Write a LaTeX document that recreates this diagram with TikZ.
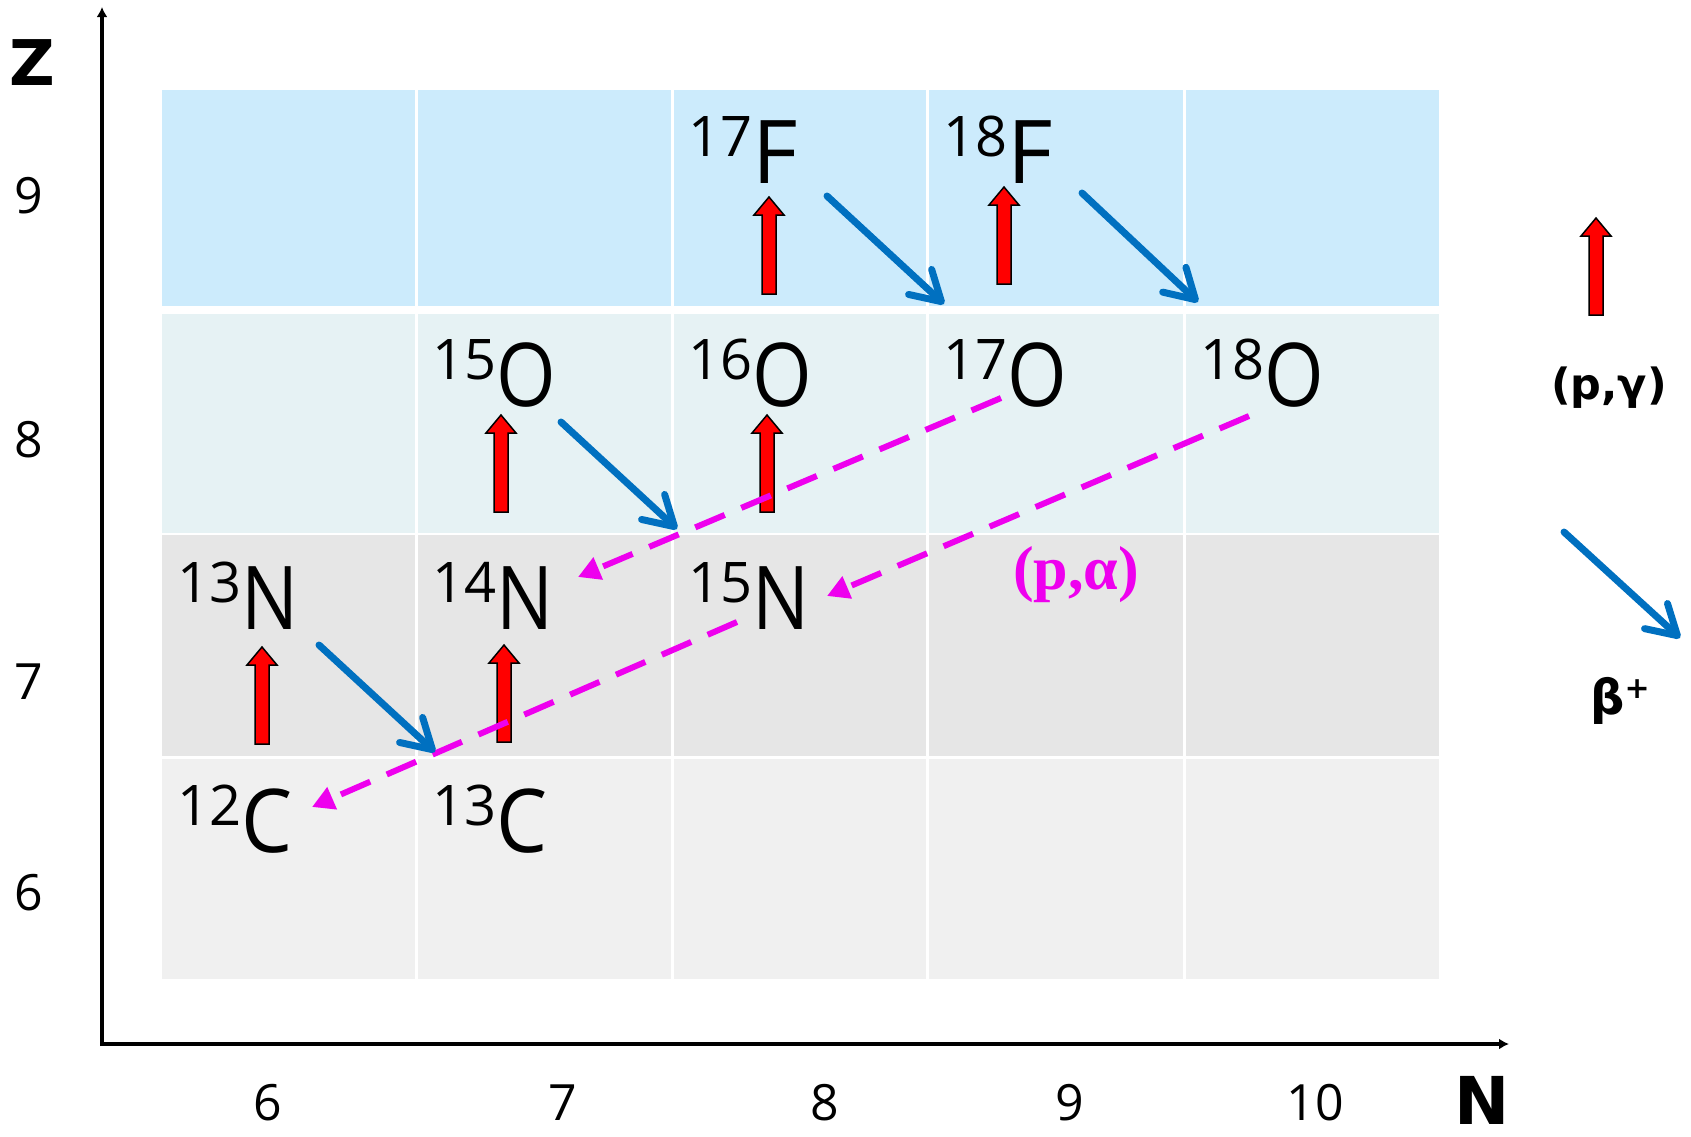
\documentclass[tikz,border=0pt]{standalone}
\usepackage{fontspec}
\usepackage{graphicx}
\setmainfont{Open Sans}
\newfontfamily\heavysans{DejaVu Sans}
\newfontfamily\serifbold{Liberation Serif}
\usetikzlibrary{arrows.meta}
\definecolor{rowF}{RGB}{204,235,252}
\definecolor{rowO}{RGB}{230,242,244}
\definecolor{rowN}{RGB}{230,230,230}
\definecolor{rowC}{RGB}{240,240,240}
\definecolor{betablue}{RGB}{0,112,192}
\definecolor{pamag}{RGB}{238,0,238}
\newcommand\isotope[3][1]{{\fontsize{56}{56}\selectfont\raisebox{27pt}{#2}}{\fontsize{88}{88}\selectfont\scalebox{#1}[1]{#3}}}
\tikzset{
  isolabel/.style={anchor=base west, inner sep=0pt},
  ticklabel/.style={inner sep=0pt, font=\fontsize{50}{50}\selectfont},
  axisline/.style={line width=4.5pt, -{Latex[length=10pt,width=11pt]}},
  betaarrow/.style={draw=betablue, line width=7pt, line cap=round,
    -{Straight Barb[length=29pt,width=34pt,round]}},
  paarrow/.style={draw=pamag, line width=6pt, dash pattern=on 32pt off 18pt,
    -{Triangle[length=22pt,width=23pt]}},
  pgam/.pic={\draw[black, line width=1.5pt, fill=red, line join=miter]
    (-7,0) -- (7,0) -- (7,-79) -- (15,-79) -- (0,-97) -- (-15,-79) -- (-7,-79) -- cycle;}
}
\begin{document}
\begin{tikzpicture}[x=1pt,y=-1pt]
\useasboundingbox (0,0) rectangle (1691,1136);
% rows
\fill[rowF] (162,89.5) rectangle (1439,306);
\fill[rowO] (162,314) rectangle (1439,532.5);
\fill[rowN] (162,535) rectangle (1439,755.5);
\fill[rowC] (162,758.5) rectangle (1439,979);
\foreach \cx in {416,672,927,1184} {\draw[white, line width=3pt] (\cx,89.5) -- (\cx,979);}
% axes
\coordinate (ybot) at (102,1046);
\coordinate (ytop) at (102,7);
\coordinate (xleft) at (100,1044);
\coordinate (xright) at (1509,1044);
\draw[axisline] (ybot) -- (ytop);
\draw[axisline] (xleft) -- (xright);
\node[font=\heavysans\bfseries\fontsize{63}{63}\selectfont, inner sep=0pt] (Zlab) at (32,63) {Z};
\node[font=\heavysans\bfseries\fontsize{66}{66}\selectfont, inner sep=0pt] (Nlab) at (1482,1100) {N};
% tick labels
\node[ticklabel] (z9) at (29,196) {9};
\node[ticklabel] (z8) at (29,440) {8};
\node[ticklabel] (z7) at (29,682) {7};
\node[ticklabel] (z6) at (29,893) {6};
\node[ticklabel] (n6) at (268,1103) {6};
\node[ticklabel] (n7) at (563,1103) {7};
\node[ticklabel] (n8) at (825,1103) {8};
\node[ticklabel] (n9) at (1070,1103) {9};
\node[ticklabel] (n10) at (1315,1103) {10};
% isotopes
\node[isolabel] (F17) at (688,183) {\isotope{17}{F}};
\node[isolabel] (F18) at (943,183) {\isotope{18}{F}};
\node[isolabel] (O15) at (432,406) {\isotope[0.87]{15}{O}};
\node[isolabel] (O16) at (688,406) {\isotope[0.87]{16}{O}};
\node[isolabel] (O17) at (943,406) {\isotope[0.87]{17}{O}};
\node[isolabel] (O18) at (1200,406) {\isotope[0.87]{18}{O}};
\node[isolabel] (N13) at (177,629) {\isotope[0.86]{13}{N}};
\node[isolabel] (N14) at (432,629) {\isotope[0.86]{14}{N}};
\node[isolabel] (N15) at (688,629) {\isotope[0.86]{15}{N}};
\node[isolabel] (C12) at (177,852) {\isotope[0.92]{12}{C}};
\node[isolabel] (C13) at (432,852) {\isotope[0.92]{13}{C}};
% (p,gamma) arrows
\pic (gF17) at (769,294) {pgam};
\pic (gF18) at (1004,284) {pgam};
\pic (gO15) at (501,512) {pgam};
\pic (gO16) at (767,512) {pgam};
\pic (gN13) at (262,744) {pgam};
\pic (gN14) at (504,742) {pgam};
\pic (gleg) at (1596,315) {pgam};
% (p,alpha) arrows
\coordinate (a1s) at (1001,398); \coordinate (a1e) at (578,577);
\coordinate (a2s) at (1249,416); \coordinate (a2e) at (827,596);
\coordinate (a3s) at (737,622);  \coordinate (a3e) at (312,807);
\draw[paarrow] (a1s) -- (a1e);
\draw[paarrow] (a2s) -- (a2e);
\draw[paarrow] (a3s) -- (a3e);
% beta+ arrows
\coordinate (b1s) at (827,196); \coordinate (b1e) at (944,304);
\coordinate (b2s) at (1082,193); \coordinate (b2e) at (1198,302);
\coordinate (b3s) at (561,422); \coordinate (b3e) at (677,529);
\coordinate (b4s) at (319,645); \coordinate (b4e) at (435,752);
\coordinate (b5s) at (1564,532); \coordinate (b5e) at (1680,638);
\draw[betaarrow] (b1s) -- (b1e);
\draw[betaarrow] (b2s) -- (b2e);
\draw[betaarrow] (b3s) -- (b3e);
\draw[betaarrow] (b4s) -- (b4e);
\draw[betaarrow] (b5s) -- (b5e);
% labels
\node[text=pamag, font=\serifbold\bfseries\fontsize{62}{62}\selectfont, inner sep=0pt] (palab) at (1076,575) {(p,α)};
\node[font=\heavysans\bfseries\fontsize{43}{43}\selectfont, inner sep=0pt] (pglab) at (1609,388) {(p,γ)};
\node[font=\heavysans\bfseries\fontsize{48}{48}\selectfont, inner sep=0pt] (betalab) at (1620,701) {β\raisebox{16pt}{\fontsize{30}{30}\selectfont +}};
\end{tikzpicture}
\end{document}
